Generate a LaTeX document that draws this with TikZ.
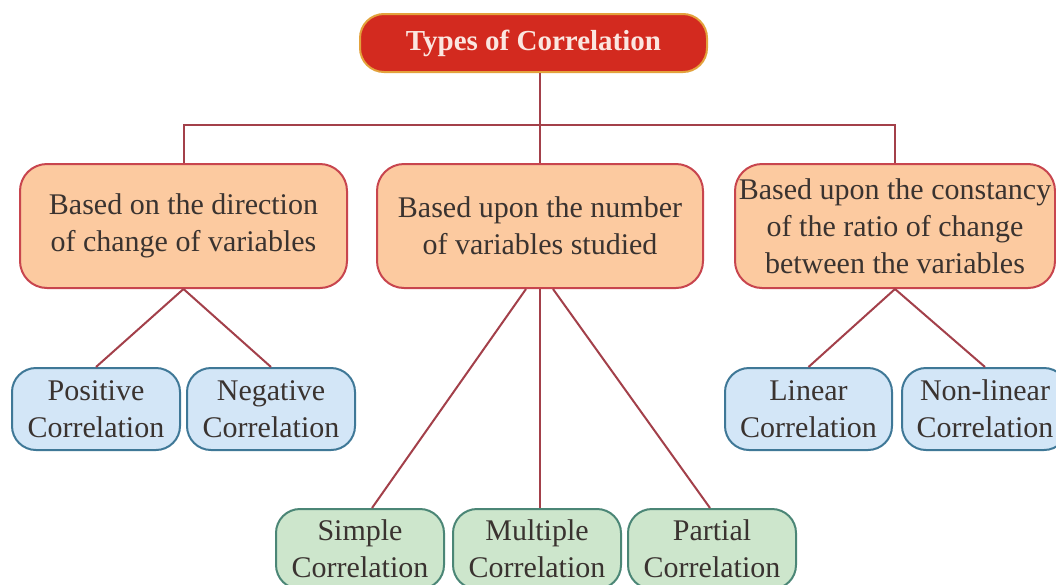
\documentclass[tikz,border=0pt]{standalone}
\usepackage{fontspec}
\setmainfont{Liberation Serif}
\usetikzlibrary{calc}
\definecolor{linecol}{HTML}{A3404A}
\definecolor{topfill}{HTML}{D32A1F}
\definecolor{topdraw}{HTML}{E3A23C}
\definecolor{topText}{HTML}{FBE6E0}
\definecolor{midfill}{HTML}{FCCAA0}
\definecolor{middraw}{HTML}{C8454E}
\definecolor{bluefill}{HTML}{D3E6F7}
\definecolor{bluedraw}{HTML}{3F7897}
\definecolor{greenfill}{HTML}{CDE6CC}
\definecolor{greendraw}{HTML}{4B8676}
\definecolor{txt}{HTML}{3A3330}
\tikzset{
  box/.style={rounded corners=27pt, line width=2pt, align=center, inner sep=0pt,
    text=txt, font=\fontsize{30}{37}\selectfont},
  topbox/.style={box, rounded corners=24pt, fill=topfill, draw=topdraw, text=topText,
    font=\fontsize{29}{35}\selectfont\bfseries, minimum width=347pt, minimum height=58pt},
  midbox/.style={box, fill=midfill, draw=middraw, minimum height=124pt},
  bluebox/.style={box, rounded corners=24pt, fill=bluefill, draw=bluedraw, minimum width=168pt, minimum height=82pt},
  greenbox/.style={box, rounded corners=24pt, fill=greenfill, draw=greendraw, minimum width=168pt, minimum height=80pt},
  conn/.style={draw=linecol, line width=2pt}
}
\begin{document}
\begin{tikzpicture}[x=1pt,y=-1pt]
\useasboundingbox[fill=white] (0,0) rectangle (1056,584);
\clip (0,0) rectangle (1056,584);
\node[topbox] (top) at (533.5,43) {Types of Correlation};
\node[midbox, minimum width=327pt] (m1) at (183.5,226) {Based on the direction\\of change of variables};
\node[midbox, minimum width=326pt] (m2) at (540,226) {Based upon the number\\of variables studied};
\node[midbox, minimum width=320pt] (m3) at (895,226) {Based upon the constancy\\of the ratio of change\\between the variables};
\node[bluebox] (pos) at (96,409) {Positive\\Correlation};
\node[bluebox] (neg) at (271,409) {Negative\\Correlation};
\node[bluebox, minimum width=167pt] (lin) at (808.5,409) {Linear\\Correlation};
\node[bluebox, minimum width=166pt] (nonlin) at (985,409) {Non-linear\\Correlation};
\node[greenbox] (simple) at (360,549) {Simple\\Correlation};
\node[greenbox] (multiple) at (537,549) {Multiple\\Correlation};
\node[greenbox] (partial) at (712,549) {Partial\\Correlation};
\coordinate (bar) at (540,125);
\draw[conn] (top.south -| bar) -- (bar);
\draw[conn] (m1.north) |- (bar) -| (m3.north);
\draw[conn] (bar) -- (m2.north);
\draw[conn] (m1.south) -- (pos.north);
\draw[conn] (m1.south) -- (neg.north);
\draw[conn] ($(m2.south)+(-14,0)$) -- ($(simple.north)+(12,0)$);
\draw[conn] (m2.south) -- (m2.south |- multiple.north);
\draw[conn] ($(m2.south)+(13,0)$) -- ($(partial.north)+(-2,0)$);
\draw[conn] (m3.south) -- (lin.north);
\draw[conn] (m3.south) -- (nonlin.north);
\end{tikzpicture}
\end{document}
